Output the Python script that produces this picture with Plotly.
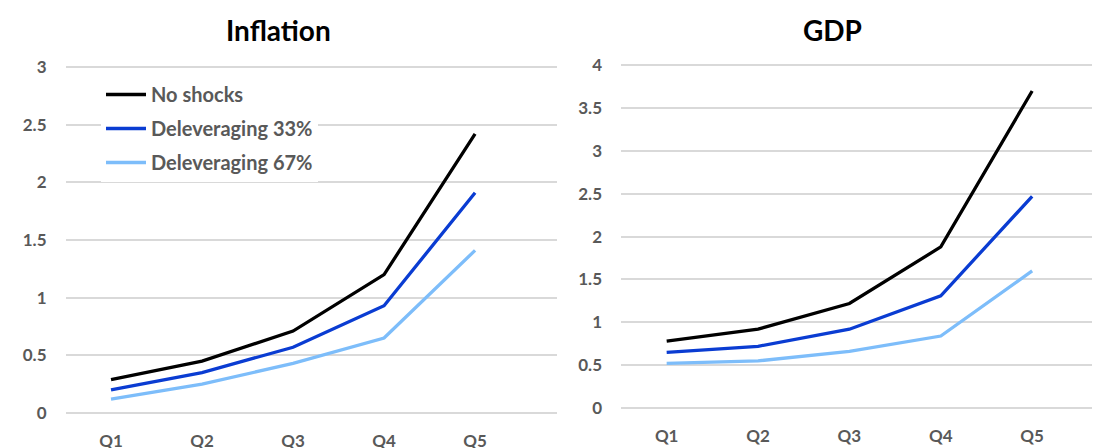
import plotly.graph_objects as go

# quarters on the x axis
quarters = ["Q1", "Q2", "Q3", "Q4", "Q5"]

# Inflation panel
infl_no_shocks = [0.29, 0.45, 0.71, 1.20, 2.42]
infl_delev_33 = [0.20, 0.35, 0.57, 0.93, 1.91]
infl_delev_67 = [0.12, 0.25, 0.43, 0.65, 1.41]

# GDP panel
gdp_no_shocks = [0.78, 0.92, 1.22, 1.88, 3.70]
gdp_delev_33 = [0.65, 0.72, 0.92, 1.31, 2.47]
gdp_delev_67 = [0.52, 0.55, 0.66, 0.84, 1.60]

names = ["No shocks", "Deleveraging 33%", "Deleveraging 67%"]
colors = ["#000000", "#0A3CD2", "#7DBDFA"]

FONT = "Lato"
GREY = "#595959"
W, H = 1100, 448
OFF = 8  # page body margin, positions below are screen px minus this


def px(x):
    return (x - OFF) / W


def py(y):
    return (H - (y - OFF)) / H


fig = go.Figure()

for i, ys in enumerate([infl_no_shocks, infl_delev_33, infl_delev_67]):
    fig.add_trace(go.Scatter(
        x=quarters, y=ys, mode="lines", name=names[i],
        line=dict(color=colors[i], width=3.3),
        legendgroup=names[i], xaxis="x", yaxis="y",
    ))

for i, ys in enumerate([gdp_no_shocks, gdp_delev_33, gdp_delev_67]):
    fig.add_trace(go.Scatter(
        x=quarters, y=ys, mode="lines", name=names[i],
        line=dict(color=colors[i], width=3.3),
        showlegend=False, xaxis="x2", yaxis="y2",
    ))

tickfont = dict(family=FONT, size=17, color=GREY, weight="bold")
common_x = dict(showgrid=False, showline=False, zeroline=False, ticks="",
                tickfont=tickfont, automargin=False, ticklabelstandoff=13)
common_y = dict(dtick=0.5, showgrid=True, gridcolor="#D9D9D9", gridwidth=2,
                zeroline=False, showline=False, ticks="", tickfont=tickfont,
                automargin=False, ticklabelstandoff=18)

# left panel: 0 at 413px, 3 at 67px (115.3 px per unit), pad 3px
lp = 3 / 115.3
# right panel: 0 at 408px, 4 at 65.3px (85.7 px per unit)
rp = 3 / 85.7

fig.update_layout(
    width=W, height=H,
    margin=dict(l=0, r=0, t=0, b=0, autoexpand=False),
    paper_bgcolor="white", plot_bgcolor="white",
    font=dict(family=FONT),
    xaxis=dict(domain=[px(65.5), px(557)], range=[-0.5, 4.9], **common_x),
    yaxis=dict(domain=[py(416), py(64)], range=[-lp, 3 + lp], **common_y),
    xaxis2=dict(domain=[px(621), 1.0], range=[-0.5, 4.83], anchor="y2",
                **common_x),
    yaxis2=dict(domain=[py(411), py(62.3)], range=[-rp, 4 + rp], anchor="x2",
                **common_y),
    legend=dict(x=93 / W, y=(H - 67) / H, xanchor="left", yanchor="top",
                bgcolor="white", tracegroupgap=5, itemwidth=40,
                font=dict(family=FONT, size=20, color=GREY, weight="bold")),
    annotations=[
        dict(text="Inflation", x=px(278), y=py(30), xanchor="center",
             yanchor="middle", xref="paper", yref="paper", showarrow=False,
             font=dict(family=FONT, size=28, color="black", weight="bold")),
        dict(text="GDP", x=px(832), y=py(30), xanchor="center",
             yanchor="middle", xref="paper", yref="paper", showarrow=False,
             font=dict(family=FONT, size=28, color="black", weight="bold")),
    ],
)

fig.write_html("out.html")
